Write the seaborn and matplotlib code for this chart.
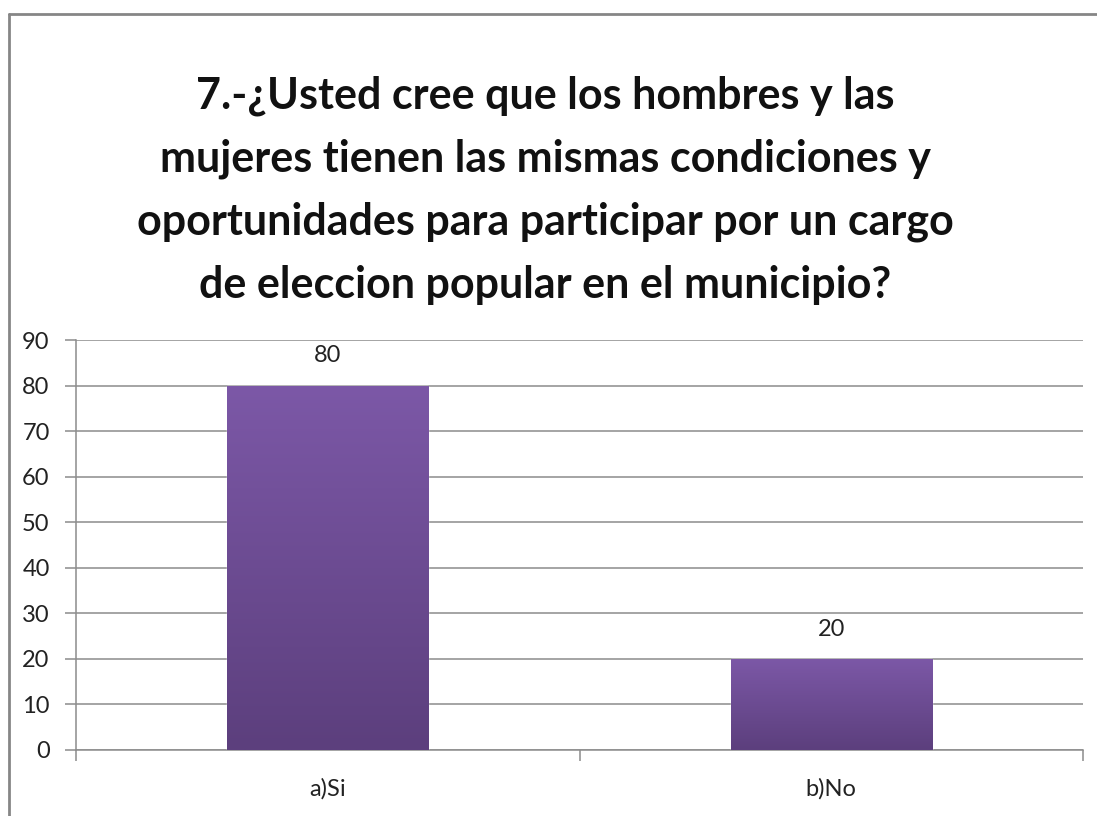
import seaborn as sns
import matplotlib.pyplot as plt
import matplotlib.colors as mcolors
from matplotlib.lines import Line2D
import numpy as np
import pandas as pd

# data
categorias = ["a)Si", "b)No"]
valores = [80, 20]
titulo = ("7.-¿Usted cree que los hombres y las\n"
          "mujeres tienen las mismas condiciones y\n"
          "oportunidades para participar por un cargo\n"
          "de eleccion popular en el municipio?")

df = pd.DataFrame({"respuesta": categorias, "valor": valores})

sns.set_style("white")
plt.rcParams['font.family'] = ['Lato', 'DejaVu Sans']

fig = plt.figure(figsize=(10.97, 8.16), dpi=100)
ax = fig.add_axes([0.0693, 0.0809, 0.918, 0.5024])

sns.barplot(data=df, x="respuesta", y="valor", color="#7B58A6", width=0.4,
            saturation=1, ax=ax, zorder=3)

# gradient fill on the bars
cmap = mcolors.LinearSegmentedColormap.from_list("morado", ["#5C3F7D", "#7C58A7"])
grad = np.linspace(0, 1, 256).reshape(-1, 1)
for bar in ax.patches:
    x0, y0 = bar.get_x(), bar.get_y()
    w, h = bar.get_width(), bar.get_height()
    im = ax.imshow(grad, cmap=cmap, origin="lower", aspect="auto",
                   extent=[x0, x0 + w, y0, y0 + h], zorder=4)
    im.set_clip_path(bar)
    ax.text(x0 + w / 2, h + 4.2, f"{h:g}", ha="center", va="bottom",
            fontsize=17, color="#222222")

ax.set_xlim(-0.5, 1.5)
ax.set_ylim(0, 90)
ax.set_yticks(range(0, 91, 10))
ax.yaxis.grid(True, color="#8c8c8c", linewidth=1.1, zorder=0)
ax.set_axisbelow(True)
ax.set_xlabel("")
ax.set_ylabel("")

for s in ["top", "right"]:
    ax.spines[s].set_visible(False)
for s in ["left", "bottom"]:
    ax.spines[s].set_color("#8c8c8c")
    ax.spines[s].set_linewidth(1.1)

ax.tick_params(axis="y", length=8, width=1.1, color="#8c8c8c", labelsize=17,
               labelcolor="#222222", pad=11, left=True)
ax.tick_params(axis="x", which="major", length=0, labelsize=17,
               labelcolor="#222222", pad=20)
ax.set_xticks([-0.5, 0.5, 1.5], minor=True)
ax.tick_params(axis="x", which="minor", length=8, width=1.1, color="#8c8c8c",
               bottom=True)

fig.text(0.497, 0.767, titulo, ha="center", va="center", fontsize=31,
         fontweight="bold", linespacing=1.68, color="#111111")

# chart frame
fig.add_artist(Line2D([9 / 1097, 9 / 1097], [0, 1 - 14 / 816], transform=fig.transFigure,
                      color="#868686", linewidth=2))
fig.add_artist(Line2D([9 / 1097, 1], [1 - 14 / 816, 1 - 14 / 816], transform=fig.transFigure,
                      color="#868686", linewidth=2))

fig.savefig("out.png", dpi=100)
